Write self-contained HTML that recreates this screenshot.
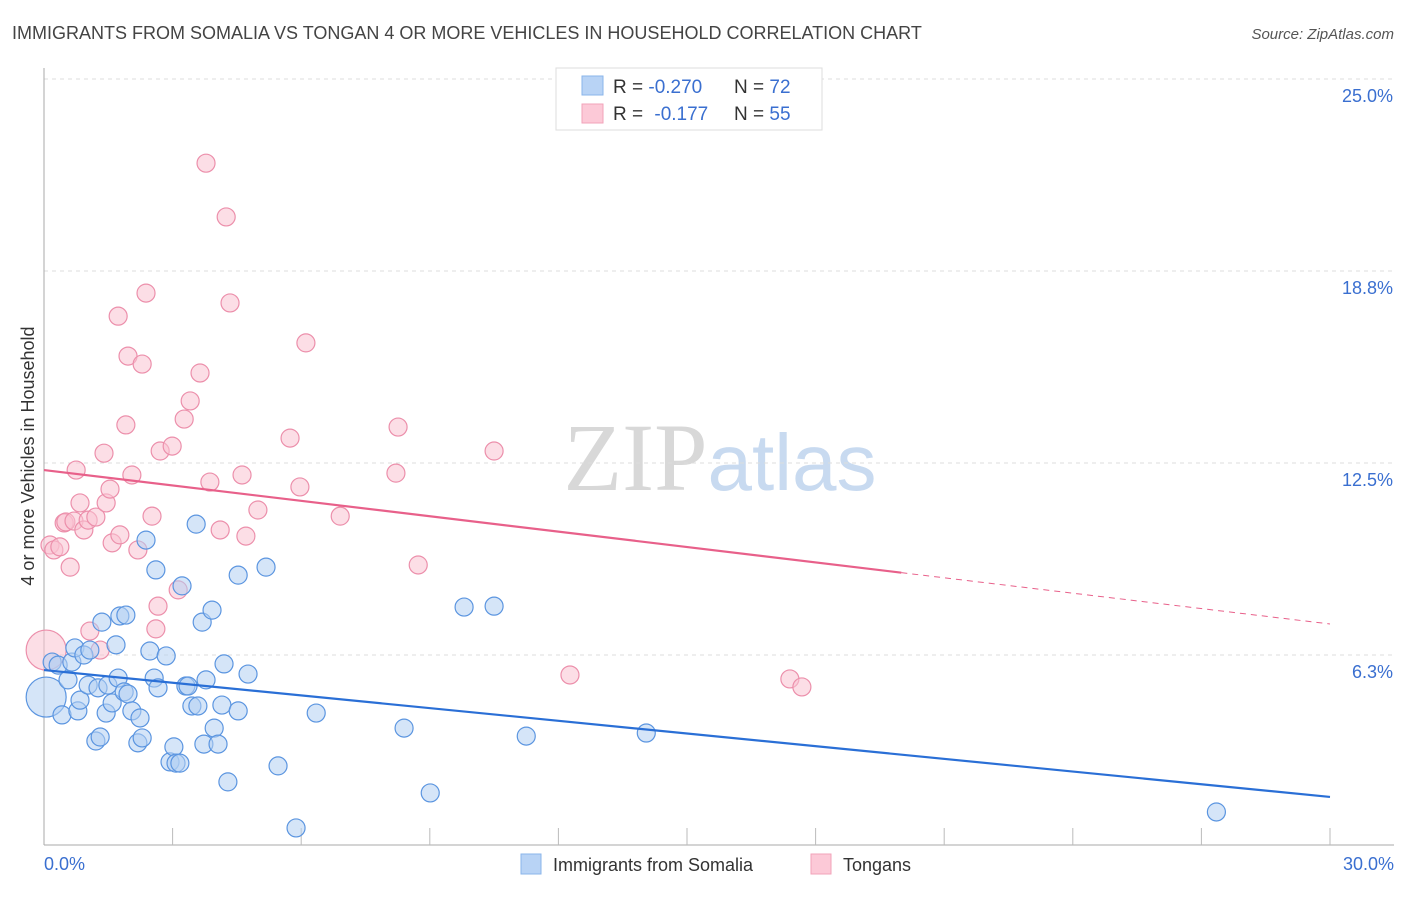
<!DOCTYPE html>
<html><head><meta charset="utf-8"><style>
body{margin:0;background:#fff;font-family:"Liberation Sans",sans-serif;}
svg text{font-family:"Liberation Sans",sans-serif;}
</style></head><body>
<svg id="chart" width="1406" height="892" xmlns="http://www.w3.org/2000/svg">
<text x="12" y="39" font-size="18" fill="#444">IMMIGRANTS FROM SOMALIA VS TONGAN 4 OR MORE VEHICLES IN HOUSEHOLD CORRELATION CHART</text>
<text x="1394" y="39" font-size="15" fill="#555" font-style="italic" text-anchor="end">Source: ZipAtlas.com</text>
<text x="720" y="490" font-size="96" text-anchor="middle"><tspan fill="#d8d8d8" font-family="Liberation Serif">ZIP</tspan><tspan fill="#c8daf0" font-size="80">atlas</tspan></text>
<g id="grid"></g>
<g id="axes"></g>
<g id="points"></g>
<g id="trends"></g>
<text transform="translate(34,456) rotate(-90)" font-size="18" fill="#333" text-anchor="middle">4 or more Vehicles in Household</text>
<g>
<rect x="556" y="68" width="266" height="62" fill="#fff" stroke="#ddd"/>
<rect x="582" y="76" width="21" height="19" fill="#b8d3f5" stroke="#8ab4ea"/>
<rect x="582" y="104" width="21" height="19" fill="#fcc9d7" stroke="#f2a3ba"/>
<text x="613" y="93" font-size="19" fill="#333">R = <tspan fill="#3a6fd0">-0.270</tspan></text>
<text x="734" y="93" font-size="19" fill="#333">N = <tspan fill="#3a6fd0">72</tspan></text>
<text x="613" y="120" font-size="19" fill="#333">R =  <tspan fill="#3a6fd0" dx="6">-0.177</tspan></text>
<text x="734" y="120" font-size="19" fill="#333">N = <tspan fill="#3a6fd0">55</tspan></text>
</g>
<g>
<rect x="521" y="854" width="20" height="20" fill="#b8d3f5" stroke="#8ab4ea"/>
<text x="553" y="871" font-size="18" fill="#333">Immigrants from Somalia</text>
<rect x="811" y="854" width="20" height="20" fill="#fcc9d7" stroke="#f2a3ba"/>
<text x="843" y="871" font-size="18" fill="#333">Tongans</text>
</g>
</svg>
<script>
const yTicks=[6.25,12.5,18.75,25];
const yTickLabels=["6.3%","12.5%","18.8%","25.0%"];
const xTickVals=[3,6,9,12,15,18,21,24,27,30];
const blueX=[0.05,0.19,0.33,0.42,0.56,0.65,0.72,0.79,0.84,0.93,1.03,1.07,1.21,1.26,1.31,1.35,1.45,1.49,1.59,1.68,1.73,1.77,1.87,1.91,1.96,2.05,2.19,2.24,2.29,2.38,2.47,2.57,2.61,2.66,2.85,2.94,3.03,3.08,3.17,3.22,3.31,3.36,3.45,3.55,3.59,3.69,3.73,3.78,3.92,3.97,4.06,4.15,4.20,4.29,4.53,4.53,4.76,5.18,5.46,5.88,6.35,8.40,9.01,9.80,10.50,11.25,14.05,27.35];
const blueY=[4.88,6.02,5.92,4.30,5.44,6.02,6.48,4.43,4.78,6.25,5.27,6.41,3.45,5.18,3.58,7.32,4.36,5.27,4.69,6.58,5.50,7.52,5.05,7.55,4.98,4.43,3.39,4.20,3.55,9.99,6.38,5.50,9.02,5.18,6.22,2.77,3.26,2.73,2.73,8.50,5.24,5.24,4.59,10.51,4.59,7.32,3.35,5.44,7.71,3.87,3.35,4.62,5.96,2.12,8.85,4.43,5.63,9.11,2.64,0.62,4.36,3.87,1.76,7.81,7.84,3.61,3.71,1.14];
const pinkX=[0.05,0.14,0.23,0.37,0.47,0.51,0.61,0.70,0.75,0.84,0.93,1.03,1.07,1.21,1.31,1.40,1.45,1.54,1.59,1.73,1.77,1.91,1.96,2.05,2.19,2.29,2.38,2.52,2.61,2.66,2.71,2.99,3.13,3.27,3.41,3.64,3.78,3.87,4.11,4.25,4.34,4.62,4.71,4.99,5.74,5.97,6.11,6.91,8.21,8.26,8.73,10.50,12.27,17.40,17.68];
const pinkY=[6.41,9.83,9.67,9.77,10.55,10.58,9.11,10.61,12.27,11.20,10.32,10.64,7.03,10.74,6.41,12.82,11.20,11.65,9.90,17.28,10.16,13.74,15.98,12.11,9.67,15.72,18.03,10.77,7.10,7.84,12.89,13.05,8.37,13.93,14.52,15.43,22.26,11.88,10.32,20.51,17.71,12.11,10.12,10.97,13.31,11.72,16.41,10.77,12.17,13.67,9.18,12.89,5.60,5.47,5.21];
const blueTrend=[5.76,1.63]; // value at x=0, x=30
const pinkTrend=[12.27,7.26];
const pinkSolidEnd=20.0;
const NS="http://www.w3.org/2000/svg";
const X=v=>44+v/30*1286, Y=v=>847-v*30.72;
function mk(tag,attrs,parent){const e=document.createElementNS(NS,tag);for(const k in attrs)e.setAttribute(k,attrs[k]);parent.appendChild(e);return e;}
const grid=document.getElementById('grid'),axes=document.getElementById('axes'),pts=document.getElementById('points'),tr=document.getElementById('trends');
yTicks.forEach((t,i)=>{
 const l=mk('line',{x1:44,x2:1394,y1:Y(t),y2:Y(t),stroke:'#ddd','stroke-dasharray':'4,4'},grid);
 
 
 const tx=mk('text',{x:1393,y:Y(t)+23,'font-size':18,fill:'#3a6fd0','text-anchor':'end'},grid);
 tx.textContent=yTickLabels[i];
 
 
});
const ya=mk('line',{x1:44,x2:44,y1:68,y2:845,stroke:'#aaa'},axes);


const xa=mk('line',{x1:44,x2:1394,y1:845,y2:845,stroke:'#aaa'},axes);


xTickVals.forEach(t=>{
 const l=mk('line',{x1:X(t),x2:X(t),y1:828,y2:845,stroke:'#bbb'},axes);
 
 
});
const xl0=mk('text',{x:44,y:870,'font-size':18,fill:'#3a6fd0'},axes);xl0.textContent='0.0%';


const xl1=mk('text',{x:1394,y:870,'font-size':18,fill:'#3a6fd0','text-anchor':'end'},axes);xl1.textContent='30.0%';


function dots(xs,ys,fill,stroke,name){xs.forEach((x,i)=>{
 const c=mk('circle',{cx:X(x),cy:Y(ys[i]),r:i===0?20:9,fill:fill,'fill-opacity':0.55,stroke:stroke,'stroke-width':1.2},pts);
 
 
});}
dots(pinkX,pinkY,'#f9c2d2','#ec8fab','tongan-point');
dots(blueX,blueY,'#b3cff3','#5b95e0','somalia-point');
const f=(t,x)=>t[0]+(t[1]-t[0])*x/30;
const bl=mk('line',{x1:X(0),y1:Y(f(blueTrend,0)),x2:X(30),y2:Y(f(blueTrend,30)),stroke:'#2a6fd6','stroke-width':2.2},tr);


const pl=mk('line',{x1:X(0),y1:Y(f(pinkTrend,0)),x2:X(pinkSolidEnd),y2:Y(f(pinkTrend,pinkSolidEnd)),stroke:'#e8608a','stroke-width':2.2},tr);


const pd=mk('line',{x1:X(pinkSolidEnd),y1:Y(f(pinkTrend,pinkSolidEnd)),x2:X(30),y2:Y(f(pinkTrend,30)),stroke:'#e8608a','stroke-width':1,'stroke-dasharray':'6,5'},tr);


</script>
</body></html>
